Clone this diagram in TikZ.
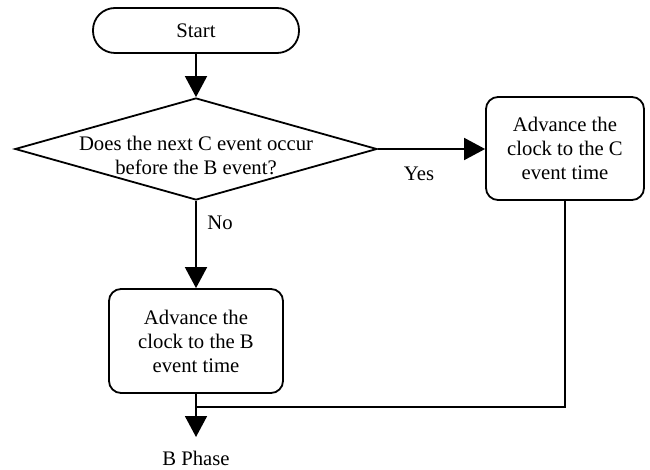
\documentclass[tikz,border=0pt]{standalone}
\usepackage{fontspec}
\setmainfont{Liberation Serif}
\usetikzlibrary{arrows.meta,shapes.geometric}
\begin{document}
\begin{tikzpicture}[x=1pt,y=-1pt,
  every node/.style={font=\fontsize{20.7}{24}\selectfont},
  line/.style={line width=1.8pt, line join=miter},
  arr/.style={line, -{Triangle[length=21pt,width=22pt]}},
  pill/.style={draw, line width=1.8pt, rounded corners=22pt, minimum width=206pt, minimum height=45pt, inner sep=0pt},
  procbox/.style={draw, line width=1.8pt, rounded corners=12pt, align=center, inner sep=0pt},
  decision/.style={draw, line width=1.8pt, diamond, inner sep=0pt, minimum width=362pt, minimum height=102pt},
  lbl/.style={inner sep=0pt}
]
\useasboundingbox (0,0) rectangle (650,470);

\node[pill] (start) at (196,30.5) {Start};
\node[decision] (dec) at (196,149) {};
\node[lbl, align=center] (dectext) at (196,155) {Does the next C event occur\\before the B event?};
\node[procbox, minimum width=158pt, minimum height=103pt] (rbox) at (565,148.5) {Advance the\\clock to the C\\event time};
\node[procbox, minimum width=174pt, minimum height=104pt] (lbox) at (196,341) {Advance the\\clock to the B\\event time};

\node[lbl] (yes) at (419,174) {Yes};
\node[lbl] (no) at (220,223) {No};
\node[lbl] (bphase) at (196,458) {B Phase};

\coordinate (join) at (196,407);
\coordinate (bend) at (565,407);
\coordinate (endpt) at (196,437);

\draw[arr] (start.south) -- (dec.north);
\draw[arr] (dec.east) -- (dec.east -| rbox.west);
\draw[arr] (dec.south) -- (lbox.north);
\draw[arr] (lbox.south) -- (endpt);
\draw[line] (rbox.south) -- (bend) -- (join);
\end{tikzpicture}
\end{document}
